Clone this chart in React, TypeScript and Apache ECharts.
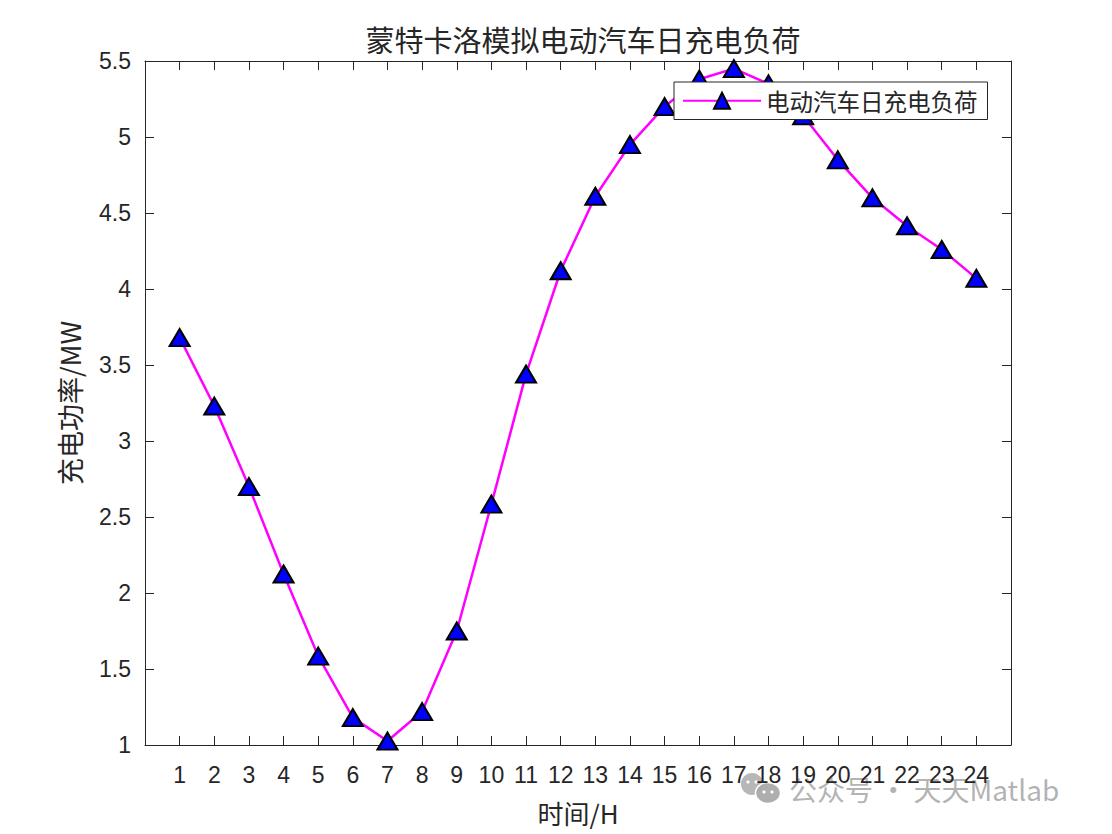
import React, { useEffect, useRef } from "react";
import * as echarts from "echarts";

const hours = [1, 2, 3, 4, 5, 6, 7, 8, 9, 10, 11, 12, 13, 14, 15, 16, 17, 18, 19, 20, 21, 22, 23, 24];
const load = [3.68, 3.23, 2.7, 2.125, 1.585, 1.18, 1.026, 1.22, 1.75, 2.585, 3.44, 4.12, 4.61, 4.95, 5.2, 5.38, 5.45, 5.35, 5.14, 4.85, 4.6, 4.415, 4.26, 4.07];
const titleText = "蒙特卡洛模拟电动汽车日充电负荷";
const seriesName = "电动汽车日充电负荷";
const xName = "时间/H";
const yName = "充电功率/MW";
const watermark = "公众号 · 天天Matlab";

const AX = "#262626";
const CJK = "'Noto Sans CJK SC', sans-serif";
const NUM = "'Liberation Sans', Arial, sans-serif";

export default function App() {
  const ref = useRef<HTMLDivElement>(null);
  useEffect(() => {
    if (!ref.current) return;
    const chart = echarts.init(ref.current, undefined, { renderer: "svg" });
    const axisCommon = {
      axisLine: { show: true, onZero: false, lineStyle: { color: AX, width: 1 } },
      axisTick: { show: true, inside: true, length: 9, lineStyle: { color: AX, width: 1 } },
      splitLine: { show: false },
    };
    chart.setOption({
      animation: false,
      backgroundColor: "#ffffff",
      title: {
        text: titleText,
        left: 578,
        textAlign: "center",
        top: 19,
        textStyle: { fontFamily: CJK, fontSize: 29, fontWeight: "normal", color: AX },
      },
      grid: { left: 145, right: 101, top: 61, bottom: 89, containLabel: false },
      legend: {
        show: true,
        left: 674,
        top: 82,
        padding: [7, 10, 7, 8],
        backgroundColor: "#ffffff",
        borderColor: AX,
        borderWidth: 1,
        borderRadius: 0,
        itemWidth: 78,
        itemHeight: 20,
        itemGap: 8,
        textStyle: { fontFamily: CJK, fontSize: 23.5, color: AX },
        data: [{ name: seriesName }],
      },
      xAxis: [
        {
          type: "value",
          min: 0,
          max: 25,
          interval: 1,
          position: "bottom",
          ...axisCommon,
          axisLabel: {
            show: true,
            margin: 18,
            fontFamily: NUM,
            fontSize: 23,
            color: AX,
            formatter: (v: number) => (v >= 1 && v <= 24 ? String(v) : ""),
          },
          name: xName,
          nameLocation: "middle",
          nameGap: 54,
          nameTextStyle: { fontFamily: CJK, fontSize: 26, color: AX },
        },
        {
          type: "value",
          min: 0,
          max: 25,
          interval: 1,
          position: "top",
          ...axisCommon,
          axisLabel: { show: false },
        },
      ],
      yAxis: [
        {
          type: "value",
          min: 1,
          max: 5.5,
          interval: 0.5,
          position: "left",
          ...axisCommon,
          axisLabel: { show: true, margin: 14, fontFamily: NUM, fontSize: 23, color: AX },
          name: yName,
          nameLocation: "middle",
          nameGap: 62,
          nameRotate: 90,
          nameTextStyle: { fontFamily: CJK, fontSize: 27, color: AX },
        },
        {
          type: "value",
          min: 1,
          max: 5.5,
          interval: 0.5,
          position: "right",
          ...axisCommon,
          axisLabel: { show: false },
        },
      ],
      series: [
        {
          name: seriesName,
          type: "line",
          xAxisIndex: 0,
          yAxisIndex: 0,
          data: hours.map((h, i) => [h, load[i]]),
          symbol: "triangle",
          symbolSize: [20, 17],
          showAllSymbol: true,
          lineStyle: { color: "#ff00ff", width: 2.5 },
          itemStyle: { color: "#0000ff", borderColor: "#000000", borderWidth: 2 },
          z: 3,
        },
      ],
      graphic: [
        {
          type: "group",
          left: 741,
          top: 773,
          children: [
            { type: "ellipse", shape: { cx: 11, cy: 11, rx: 11, ry: 11 }, style: { fill: "rgba(170,170,170,0.85)" } },
            { type: "ellipse", shape: { cx: 27, cy: 20, rx: 12.5, ry: 10.5 }, style: { fill: "rgba(170,170,170,0.95)", stroke: "#ffffff", lineWidth: 1.5 } },
            { type: "circle", shape: { cx: 7, cy: 9, r: 1.6 }, style: { fill: "#ffffff" } },
            { type: "circle", shape: { cx: 15, cy: 9, r: 1.6 }, style: { fill: "#ffffff" } },
            { type: "circle", shape: { cx: 23, cy: 19, r: 1.6 }, style: { fill: "#ffffff" } },
            { type: "circle", shape: { cx: 31, cy: 19, r: 1.6 }, style: { fill: "#ffffff" } },
          ],
        },
        {
          type: "text",
          left: 789,
          top: 775,
          style: {
            text: watermark,
            font: `28px ${CJK}`,
            fill: "rgba(165,165,165,0.85)",
          },
        },
      ],
    });
    return () => chart.dispose();
  }, []);
  return (
    <div
      ref={ref}
      style={{ position: "fixed", left: 0, top: 0, width: 1112, height: 834, background: "#fff" }}
    />
  );
}
